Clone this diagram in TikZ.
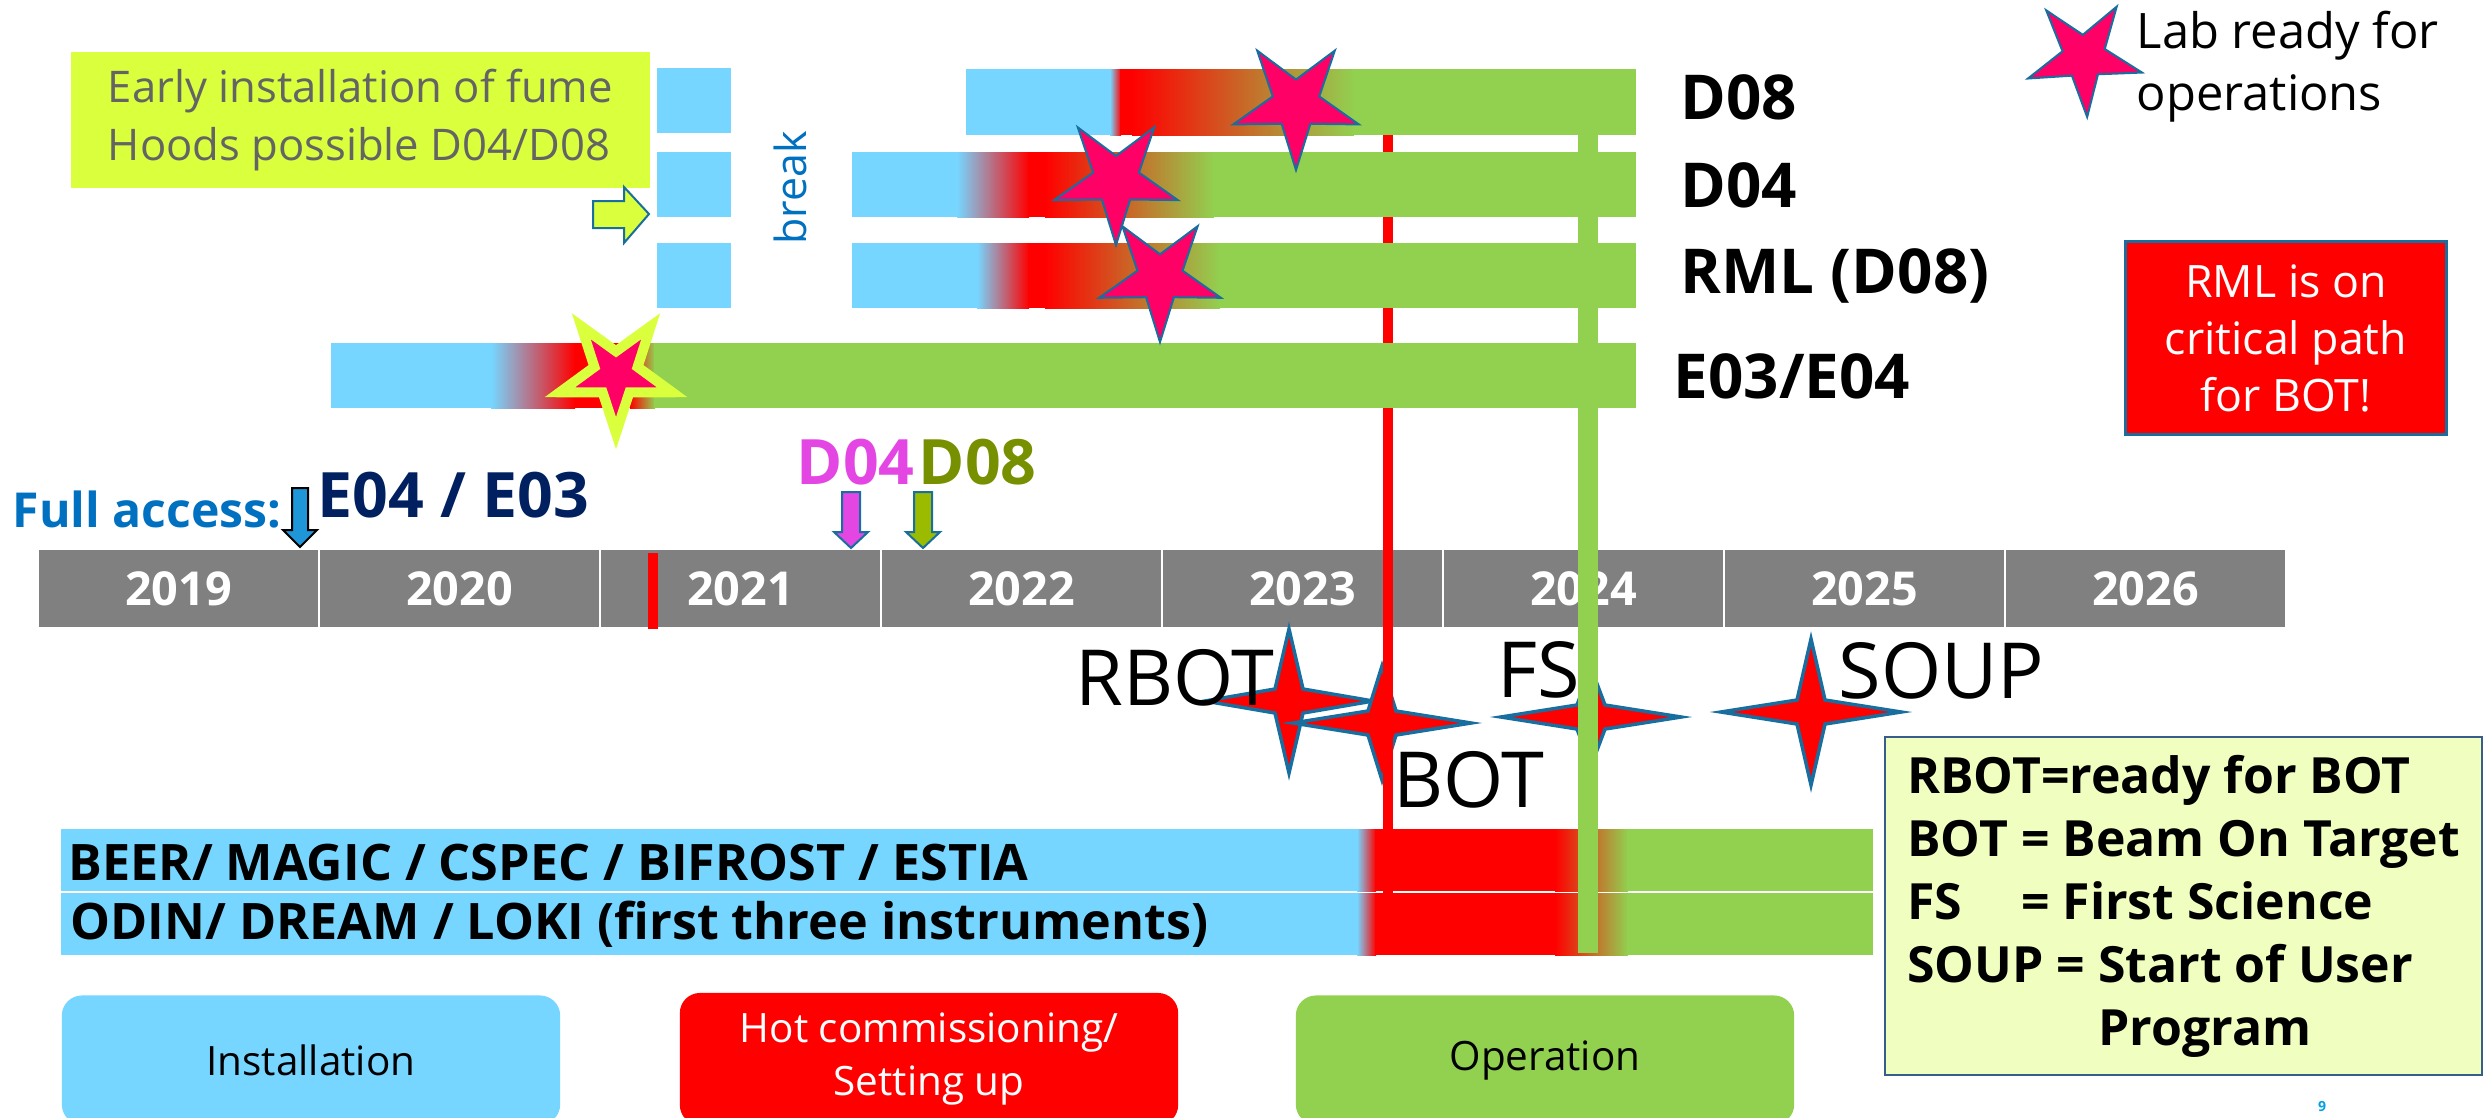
\documentclass[tikz,border=0pt]{standalone}
\usepackage{fontspec}
\setmainfont{Open Sans}
\usetikzlibrary{shapes.geometric}

\definecolor{instblue}{RGB}{118,214,255}
\definecolor{opgreen}{RGB}{146,208,80}
\definecolor{labpink}{RGB}{255,0,102}
\definecolor{starline}{RGB}{25,110,160}
\definecolor{lime}{RGB}{217,255,61}
\definecolor{paleyel}{RGB}{240,255,192}
\definecolor{tlgray}{RGB}{128,128,128}
\definecolor{navy}{RGB}{0,32,96}
\definecolor{accessblue}{RGB}{0,112,192}
\definecolor{accarrow}{RGB}{30,150,215}
\definecolor{dmag}{RGB}{228,70,228}
\definecolor{dolive}{RGB}{119,144,0}
\definecolor{aolive}{RGB}{155,187,0}
\definecolor{earlygray}{RGB}{100,100,100}
\definecolor{defborder}{RGB}{56,93,138}
\definecolor{pageblue}{RGB}{0,160,230}

\begin{document}
\begin{tikzpicture}[x=0.01cm,y=-0.01cm]
        \tikzstyle{year}=[fill=tlgray,text=white,font=\fontsize{13.3}{16}\selectfont\bfseries,minimum width=2.78cm,minimum height=0.77cm,inner sep=0]
        \tikzstyle{barlabel}=[anchor=base west,inner sep=0,font=\fontsize{17.6}{21}\selectfont\bfseries]
        \tikzstyle{insttext}=[anchor=base west,inner sep=0,font=\fontsize{14.3}{17}\selectfont\bfseries]
        \tikzstyle{labstar}=[star,star points=5,star point ratio=2.7,shape border rotate=180,fill=labpink,draw=starline,line width=0.02cm,inner sep=0]
        \tikzstyle{sparkle}=[fill=red,draw=starline,line width=0.035cm,line join=miter]
        \tikzstyle{milestone}=[anchor=base west,inner sep=0,font=\fontsize{22}{26}\selectfont]
        \tikzstyle{legendbox}=[rounded corners=0.2cm,minimum width=4.98cm,minimum height=1.29cm,inner sep=0,align=center,font=\fontsize{11.5}{14.8}\selectfont]
        \tikzstyle{blockarrow}=[draw=starline,line width=0.02cm]
        \tikzstyle{bigcode}=[anchor=base west,inner sep=0,font=\fontsize{17.8}{21}\selectfont\bfseries]

        \useasboundingbox (0,0) rectangle (2484,1117);
        \fill[white] (0,0) rectangle (2484,1117);

        % time line
        \foreach \yr [count=\i from 0] in {2019,...,2026}
            \node[year] (t\yr) at (178.5+281*\i,588.5) {\yr};
        \fill[red] (648,553) rectangle (658,629);

        % instruments
        \foreach \ya in {829,893} {
            \fill[instblue] (61,\ya) rectangle (1358,\ya+62);
            \shade[left color=instblue,right color=red] (1357,\ya) rectangle (1376,\ya+62);
            \fill[red] (1375,\ya) rectangle (1556,\ya+62);
            \shade[left color=red,right color=opgreen] (1555,\ya) rectangle (1628,\ya+62);
            \fill[opgreen] (1627,\ya) rectangle (1873,\ya+62);
        }
        \node[insttext] (inst1) at (68,880) {BEER/ MAGIC / CSPEC / BIFROST / ESTIA};
        \node[insttext] (inst2) at (70,939) {ODIN/ DREAM / LOKI (first three instruments)};

        % milestones
        \foreach \cx/\cy/\rx/\ry in {1289/701/84/72,1382/723/89/57,1591/717/90/49,1811/712/90/73}
            \draw[sparkle] (\cx,\cy-\ry) -- (\cx+14,\cy-12) -- (\cx+\rx,\cy) -- (\cx+14,\cy+12)
                -- (\cx,\cy+\ry) -- (\cx-14,\cy+12) -- (\cx-\rx,\cy) -- (\cx-14,\cy-12) -- cycle;
        \node[milestone,anchor=base east] (rbot) at (1275,705) {RBOT};
        \node[milestone] (bot) at (1393,807) {BOT};
        \node[milestone] (fs) at (1497,697) {FS};
        \node[milestone] (soup) at (1838,698) {SOUP};

        \draw[red,line width=0.1cm] (1388,135) -- (1388,955);
        \draw[opgreen,line width=0.2cm] (1588,135) -- (1588,953);

        % labs
        \foreach \ty in {68,152,243}
            \fill[instblue] (657,\ty) rectangle (731,\ty+65);
        \foreach \ya/\yb/\xa/\xb/\xc/\xd/\xe in {69/135/966/1110/1120/1132/1353,152/217/852/957/1028/1045/1213,243/308/852/977/1028/1045/1219,343/408/331/491/574/630/654} {
            \fill[instblue] (\xa,\ya) rectangle (\xb+1,\yb);
            \shade[left color=instblue,right color=red] (\xb,\ya) rectangle (\xc+1,\yb);
            \fill[red] (\xc,\ya) rectangle (\xd+1,\yb);
            \shade[left color=red,right color=opgreen] (\xd,\ya) rectangle (\xe+1,\yb);
            \fill[opgreen] (\xe,\ya) rectangle (1636,\yb);
        }

        \node[labstar,minimum size=1.32cm] (sD08) at (1296,104) {};
        \node[labstar,minimum size=1.30cm] (sD04) at (1116,180) {};
        \node[labstar,minimum size=1.28cm] (sRML) at (1160,278) {};
        \node[labstar,minimum size=1.18cm,draw=lime,line width=0.1cm,star point ratio=2.6] (sE03) at (616,374) {};

        \node[barlabel] (lD08) at (1680,119) {D08};
        \node[barlabel] (lD04) at (1680,207) {D04};
        \node[barlabel] (lRML) at (1680,293) {RML (D08)};
        \node[barlabel] (lE03) at (1673,398) {E03/E04};

        \node[fill=lime,text=earlygray,anchor=north west,minimum width=5.79cm,minimum height=1.36cm,
            align=left,font=\fontsize{12.4}{16.5}\selectfont] (early) at (70,51) {Early installation of fume\\Hoods possible D04/D08};
        \draw[blockarrow,fill=lime] (593,201) -- (624,201) -- (624,187) -- (649,214) -- (624,243) -- (624,228) -- (593,228) -- cycle;
        \node[rotate=90,text=accessblue,font=\fontsize{12.2}{14}\selectfont,inner sep=0] (brk) at (790,188) {break};

        % legend
        \node[labstar,minimum size=1.2cm,shape border rotate=183] (slegend) at (2084,57) {};
        \node[anchor=base west,align=left,inner sep=0,font=\fontsize{13.9}{17.6}\selectfont] (legtxt) at (2136,110) {Lab ready for\\operations};
        \node[fill=red,draw=starline,line width=0.03cm,text=white,minimum width=3.2cm,minimum height=1.93cm,
            align=center,font=\fontsize{12.7}{16.2}\selectfont] (crit) at (2286,338) {RML is on\\critical path\\for BOT!};

        % access
        \node[anchor=base west,inner sep=0,text=accessblue,font=\fontsize{13.7}{16}\selectfont\bfseries] (access) at (12,527) {Full access:};
        \draw[fill=accarrow,draw=black,line width=0.02cm] (292,488) -- (308,488) -- (308,530) -- (317,530) -- (300,547) -- (283,530) -- (292,530) -- cycle;
        \node[bigcode,text=navy] (e0403) at (317,517) {E04 / E03};
        \node[bigcode,text=dmag] (fD04) at (796,484) {D04};
        \node[bigcode,text=dolive] (fD08) at (918,484) {D08};
        \foreach \cx/\col in {851/dmag,923/aolive}
            \draw[blockarrow,fill=\col] (\cx-9,492) -- (\cx+9,492) -- (\cx+9,532) -- (\cx+17,532) -- (\cx,548) -- (\cx-17,532) -- (\cx-9,532) -- cycle;

        \node[anchor=north west,fill=paleyel,draw=defborder,line width=0.02cm,minimum width=5.97cm,minimum height=3.38cm,
            align=left,font=\fontsize{14.2}{17.9}\selectfont\bfseries] (defs) at (1884,736)
            {RBOT=ready for BOT\\BOT = Beam On Target\\\makebox[0pt][l]{FS}\hphantom{BOT} = First Science\\SOUP = Start of User\\\hphantom{SOUP = }Program};

        \node[legendbox,fill=instblue] (inst) at (311,1060) {Installation};
        \node[legendbox,fill=red,text=white,minimum height=1.32cm] (hot) at (929,1059) {Hot commissioning/\\Setting up};
        \node[legendbox,fill=opgreen] (oper) at (1545,1060) {Operation};
        \node[text=pageblue,font=\fontsize{4}{5}\selectfont\bfseries,inner sep=0] (pg) at (2322,1106) {9};

    \end{tikzpicture}
\end{document}
